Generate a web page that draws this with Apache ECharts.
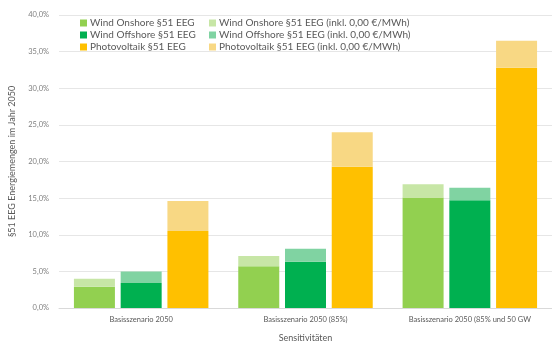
<!DOCTYPE html>
<html>
<head>
<meta charset="utf-8">
<script src="https://cdn.jsdelivr.net/npm/echarts@6/dist/echarts.min.js"></script>
<style>
  html, body { margin: 0; padding: 0; background: #fff; }
  #chart { width: 552px; height: 348px; }
</style>
</head>
<body>
<div id="chart"></div>
<script>
// Scenarios on the x axis
const categories = ['Basisszenario 2050', 'Basisszenario 2050 (85%)', 'Basisszenario 2050 (85% und 50 GW'];

// §51 EEG volumes (% of annual energy), base and including 0,00 €/MWh hours
const onshoreBase = [2.9, 5.7, 15.1];
const onshoreIncl = [4.0, 7.1, 16.9];
const offshoreBase = [3.4, 6.3, 14.7];
const offshoreIncl = [5.0, 8.1, 16.4];
const pvBase = [10.5, 19.3, 32.8];
const pvIncl = [14.6, 24.0, 36.5];

// y axis ticks
const yTicks = [0, 5, 10, 15, 20, 25, 30, 35, 40];

const names = {
  on: 'Wind Onshore §51 EEG',
  off: 'Wind Offshore §51 EEG',
  pv: 'Photovoltaik §51 EEG',
  onIncl: 'Wind Onshore §51 EEG (inkl. 0,00 €/MWh)',
  offIncl: 'Wind Offshore §51 EEG (inkl. 0,00 €/MWh)',
  pvIncl: 'Photovoltaik §51 EEG (inkl. 0,00 €/MWh)'
};

const colors = {
  on: '#92D050', onIncl: '#C7E6A6',
  off: '#00B050', offIncl: '#80D3A2',
  pv: '#FFC000', pvIncl: '#F8D884'
};

const FONT = 'Lato';
const diff = (tot, base) => tot.map((t, i) => +(t - base[i]).toFixed(2));

function bar(name, data, stack, color) {
  return {
    name, type: 'bar', stack, data,
    barWidth: 41, barGap: '14%',
    itemStyle: { color },
    emphasis: { disabled: true }
  };
}

const legendCommon = {
  orient: 'vertical', itemWidth: 7, itemHeight: 7, itemGap: 2,
  icon: 'rect',
  textStyle: { fontFamily: FONT, fontSize: 10, color: '#595959', padding: [0, 0, 0, -2] },
  padding: 0
};

const chart = echarts.init(document.getElementById('chart'), null, { renderer: 'canvas' });
chart.setOption({
  animation: false,
  backgroundColor: '#ffffff',
  grid: { left: 57, right: 0, top: 15, bottom: 35 },
  legend: [
    Object.assign({}, legendCommon, { left: 80, top: 18, data: [names.on, names.off, names.pv] }),
    Object.assign({}, legendCommon, { left: 209, top: 18, data: [names.onIncl, names.offIncl, names.pvIncl] })
  ],
  xAxis: {
    type: 'category',
    data: categories,
    name: 'Sensitivitäten',
    nameLocation: 'middle',
    nameGap: 26,
    nameTextStyle: { fontFamily: FONT, fontSize: 9, color: '#595959' },
    axisTick: { show: false },
    axisLine: { lineStyle: { color: '#D9D9D9' } },
    axisLabel: { fontFamily: FONT, fontSize: 7.5, color: '#595959', margin: 8 }
  },
  yAxis: {
    type: 'value',
    min: yTicks[0],
    max: yTicks[yTicks.length - 1],
    interval: yTicks[1] - yTicks[0],
    name: '§51 EEG Energiemengen im Jahr 2050',
    nameLocation: 'middle',
    nameGap: 42,
    nameTextStyle: { fontFamily: FONT, fontSize: 9, color: '#595959' },
    axisLine: { show: false },
    axisTick: { show: false },
    splitLine: { lineStyle: { color: '#E6E6E6' } },
    axisLabel: {
      fontFamily: FONT, fontSize: 7.5, color: '#7F7F7F', margin: 10,
      formatter: v => v.toFixed(1).replace('.', ',') + '%'
    }
  },
  series: [
    bar(names.on, onshoreBase, 'on', colors.on),
    bar(names.onIncl, diff(onshoreIncl, onshoreBase), 'on', colors.onIncl),
    bar(names.off, offshoreBase, 'off', colors.off),
    bar(names.offIncl, diff(offshoreIncl, offshoreBase), 'off', colors.offIncl),
    bar(names.pv, pvBase, 'pv', colors.pv),
    bar(names.pvIncl, diff(pvIncl, pvBase), 'pv', colors.pvIncl)
  ]
});
</script>
</body>
</html>
